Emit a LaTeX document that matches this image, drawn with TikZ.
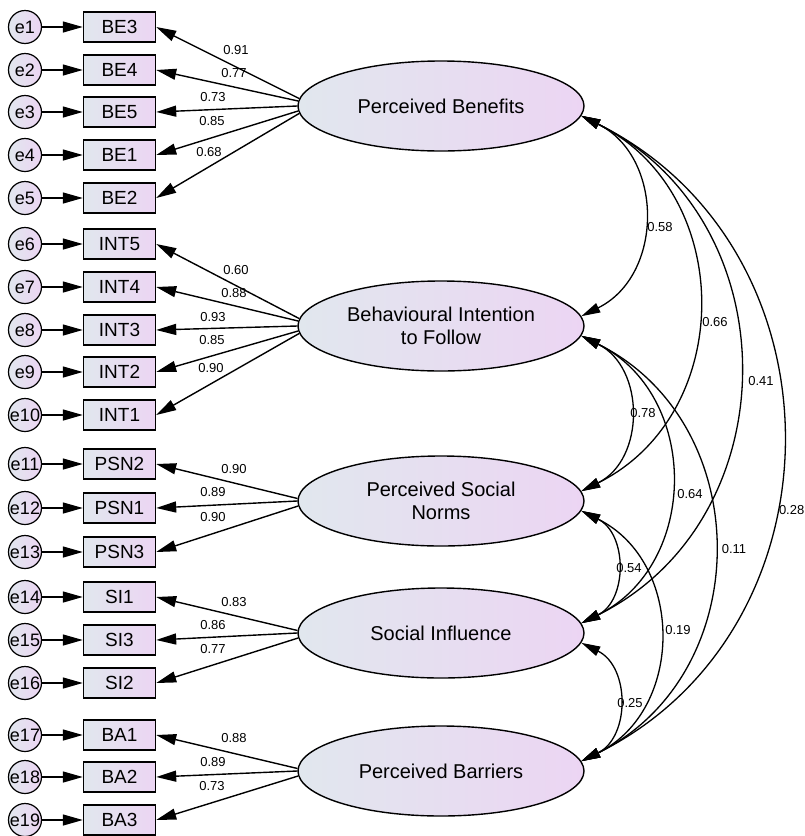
\documentclass[tikz,border=0pt]{standalone}
\usepackage{fontspec}
\setmainfont{Liberation Sans}
\usetikzlibrary{arrows.meta,shapes.geometric}
\definecolor{shl}{RGB}{225,231,238}
\definecolor{shr}{RGB}{236,213,243}
\begin{document}
\begin{tikzpicture}[x=1pt,y=-1pt,
  lat/.style={ellipse,draw,line width=1.4pt,minimum width=286pt,minimum height=90pt,inner sep=0pt,left color=shl,right color=shr,font=\fontsize{20}{23}\selectfont,align=center},
  obs/.style={rectangle,draw,line width=1.4pt,minimum width=72pt,minimum height=30pt,inner sep=0pt,left color=shl,right color=shr,font=\fontsize{19}{22}\selectfont},
  err/.style={circle,draw,line width=1.2pt,minimum size=33pt,inner sep=0pt,left color=shl,right color=shr,font=\fontsize{18}{20}\selectfont},
  arr/.style={line width=1.4pt,-{Triangle[length=20pt,width=11pt]}},
  cov/.style={line width=1.3pt,{Triangle[length=19pt,width=10pt]}-{Triangle[length=19pt,width=10pt]}},
  num/.style={font=\fontsize{13}{15}\selectfont,inner sep=0pt}
]
\useasboundingbox (0,0) rectangle (805,836);

% latent variables
\node[lat] (PB)  at (441,106) {Perceived Benefits};
\node[lat] (BI)  at (441,326) {Behavioural Intention\\to Follow};
\node[lat] (PSN) at (441,501) {Perceived Social\\Norms};
\node[lat] (SI)  at (441,633) {Social Influence};
\node[lat] (BA)  at (441,771) {Perceived Barriers};

% indicators and errors
\foreach \i/\n/\l/\a/\y in {1/BE3/PB/177.5/27,2/BE4/PB/178.8/70,3/BE5/PB/180.4/112,4/BE1/PB/182.4/155,5/BE2/PB/183.7/198,
  6/INT5/BI/177.5/244,7/INT4/BI/178.8/287,8/INT3/BI/180.4/330,9/INT2/BI/182.4/372,10/INT1/BI/183.7/415,
  11/PSN2/PSN/179.6/464,12/PSN1/PSN/180.8/508,13/PSN3/PSN/182.4/552,
  14/SI1/SI/179.6/597,15/SI3/SI/180.8/640,16/SI2/SI/182.4/683,
  17/BA1/BA/179.6/735,18/BA2/BA/180.8/777,19/BA3/BA/182.4/820}{
  \node[err] (e\i) at (25,\y) {e\i};
  \node[obs] (\n) at (119.5,\y) {\n};
  \draw[arr] (e\i) -- (\n);
  \draw[arr] (\l.\a) -- (\n.east);
}

% loading labels
\foreach \k/\t/\x/\y in {a/0.91/236/50,b/0.77/234/73,c/0.73/213/97,d/0.85/212/121,f/0.68/209/152,
  g/0.60/236/270,h/0.88/234/293,i/0.93/213/317,j/0.85/212/340,k/0.90/211/368,
  l/0.90/234/469,m/0.89/213/492,n/0.90/213/517,
  o/0.83/234/602,p/0.86/213/625,q/0.77/213/649,
  r/0.88/234/738,s/0.89/213/762,t/0.73/212/786}{
  \node[num] (L\k) at (\x,\y) {\t};
}

% covariances
\draw[cov] (PB.-4) .. controls +(82.7,41) and +(82.7,-41) .. (BI.4);
\draw[cov] (PB.-4) .. controls +(155,77) and +(155,-77) .. (PSN.4);
\draw[cov] (PB.-4) .. controls +(209.5,104) and +(209.5,-104) .. (SI.4);
\draw[cov] (PB.-4) .. controls +(266.6,132.4) and +(266.6,-132.4) .. (BA.4);
\draw[cov] (BI.-4) .. controls +(64,31.8) and +(64,-31.8) .. (PSN.4);
\draw[cov] (BI.-4) .. controls +(118.6,58.9) and +(118.6,-58.9) .. (SI.4);
\draw[cov] (BI.-4) .. controls +(175.7,87.2) and +(175.7,-87.2) .. (BA.4);
\draw[cov] (PSN.-4) .. controls +(46.3,23) and +(46.3,-23) .. (SI.4);
\draw[cov] (PSN.-4) .. controls +(103.3,51.3) and +(103.3,-51.3) .. (BA.4);
\draw[cov] (SI.-4) .. controls +(48.8,24.2) and +(48.8,-24.2) .. (BA.4);

% covariance labels
\node[num] (c1) at (660,227) {0.58};
\node[num] (c2) at (715,322) {0.66};
\node[num] (c3) at (761,381) {0.41};
\node[num,anchor=east] (c4) at (804.5,510) {0.28};
\node[num] (c5) at (643,413) {0.78};
\node[num] (c6) at (690,494) {0.64};
\node[num] (c7) at (734,549) {0.11};
\node[num] (c8) at (629,568) {0.54};
\node[num] (c9) at (678,630) {0.19};
\node[num] (c10) at (630,703) {0.25};
\end{tikzpicture}
\end{document}
